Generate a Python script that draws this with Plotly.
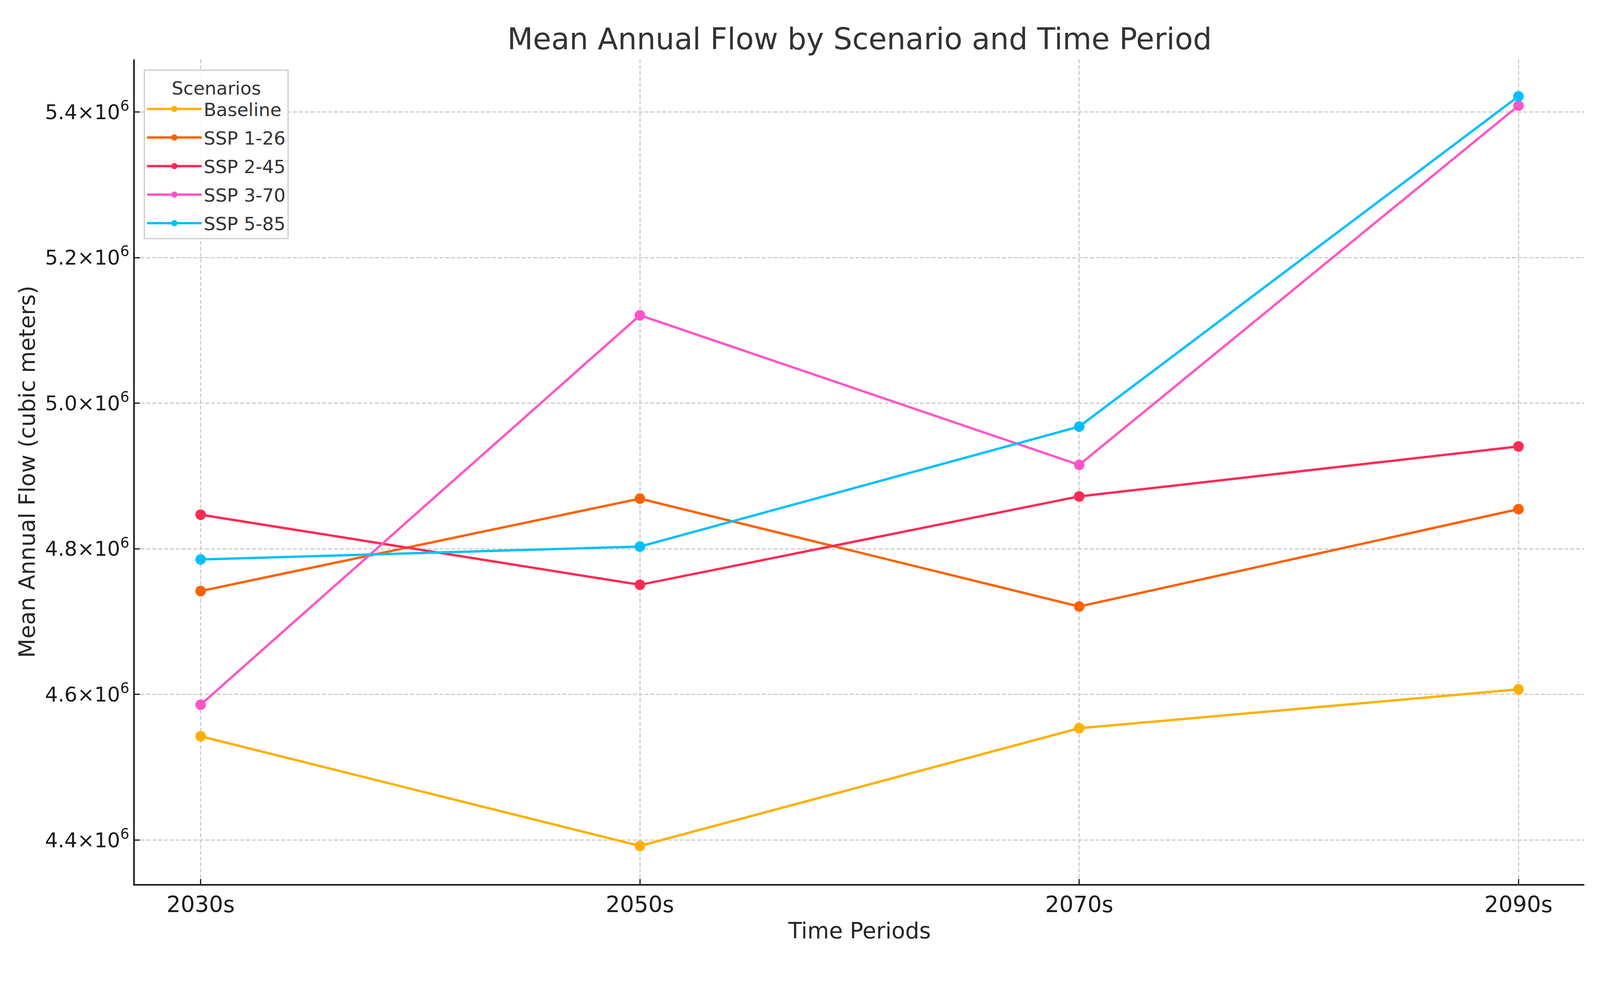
import plotly.graph_objects as go

periods = ["2030s", "2050s", "2070s", "2090s"]
scenarios = ["Baseline", "SSP 1-26", "SSP 2-45", "SSP 3-70", "SSP 5-85"]
baseline = [4.5425e6, 4.3920e6, 4.5536e6, 4.6070e6]
ssp126 = [4.7420e6, 4.8690e6, 4.7208e6, 4.8545e6]
ssp245 = [4.8469e6, 4.7506e6, 4.8720e6, 4.9406e6]
ssp370 = [4.5859e6, 5.1208e6, 4.9153e6, 5.4087e6]
ssp585 = [4.7854e6, 4.8031e6, 4.9679e6, 5.4215e6]
colors = ["#FFB000", "#FE6100", "#FF2A55", "#FF55C8", "#00BFFF"]
ytick_vals = [4.4e6, 4.6e6, 4.8e6, 5.0e6, 5.2e6, 5.4e6]
ytick_text = ["4.4×10<sup>6</sup>", "4.6×10<sup>6</sup>", "4.8×10<sup>6</sup>",
              "5.0×10<sup>6</sup>", "5.2×10<sup>6</sup>", "5.4×10<sup>6</sup>"]

series = [baseline, ssp126, ssp245, ssp370, ssp585]

fig = go.Figure()
for name, vals, col in zip(scenarios, series, colors):
    fig.add_trace(go.Scatter(
        x=periods, y=vals, name=name, mode="lines+markers",
        legendgroup=name,
        line=dict(color=col, width=6),
        marker=dict(color=col, size=27),
    ))

font_family = "DejaVu Sans"
W, H = 4080, 2411
fig.update_layout(
    width=W, height=H,
    paper_bgcolor="white", plot_bgcolor="white",
    margin=dict(l=337, r=32, t=144, b=157),
    font=dict(family=font_family, color="#262626", size=57),
    title=dict(text="Mean Annual Flow by Scenario and Time Period",
               x=0.5, xref="paper", xanchor="center",
               y=1 - 91 / H, yref="container", yanchor="middle",
               font=dict(size=76, color="#333333", family=font_family)),
    legend=dict(
        title=dict(text="Scenarios", side="top center",
                   font=dict(size=47, color="#333333")),
        x=0.0063, y=0.9879, xanchor="left", yanchor="top",
        bgcolor="rgba(255,255,255,0.85)", bordercolor="#cccccc", borderwidth=3,
        font=dict(size=47, color="#333333"),
        itemwidth=140, tracegroupgap=9,
    ),
    showlegend=True,
)
fig.update_xaxes(
    type="category", range=[-0.15, 3.15],
    title=dict(text="Time Periods", font=dict(size=57, color="#262626"), standoff=16),
    showline=True, linecolor="#1a1a1a", linewidth=3.5, mirror=False,
    ticks="inside", ticklen=13, tickwidth=2.5, tickcolor="#1a1a1a",
    tickfont=dict(size=57, color="#1a1a1a"),
    showgrid=True, gridcolor="#cccccc", gridwidth=2.5, griddash="10px,5px",
    zeroline=False,
)
fig.update_yaxes(
    range=[4.3396e6, 5.4722e6],
    tickmode="array", tickvals=ytick_vals, ticktext=ytick_text,
    title=dict(text="Mean Annual Flow (cubic meters)", font=dict(size=57, color="#262626"), standoff=8),
    showline=True, linecolor="#1a1a1a", linewidth=3.5, mirror=False,
    ticks="inside", ticklen=13, tickwidth=2.5, tickcolor="#1a1a1a",
    tickfont=dict(size=52, color="#1a1a1a"),
    showgrid=True, gridcolor="#cccccc", gridwidth=2.5, griddash="10px,5px",
    zeroline=False,
)

fig.write_html("out.html")
